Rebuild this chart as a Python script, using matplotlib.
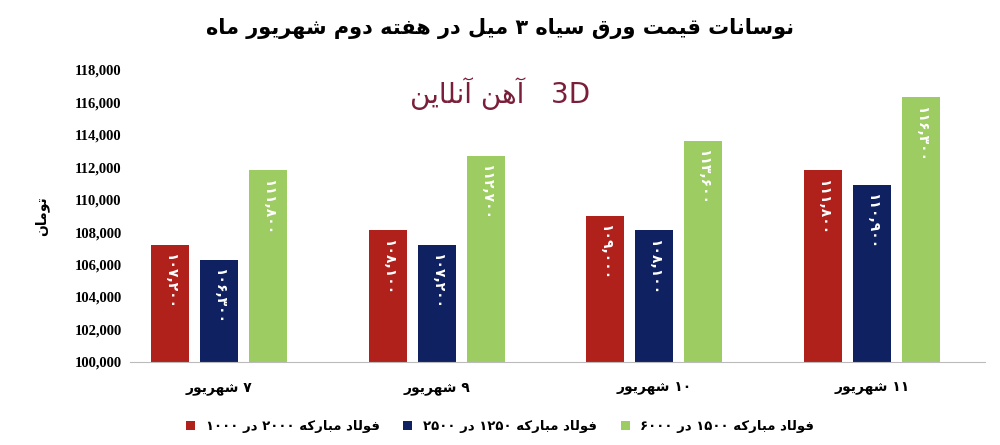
import matplotlib
matplotlib.use("Agg")
import matplotlib.pyplot as plt
import numpy as np

plt.rcParams['font.family'] = ['DejaVu Sans']

# ---- minimal Arabic/Persian shaping ----
FORMS = {
 '\u0622':('\uFE81','\uFE82',None,None),'\u0627':('\uFE8D','\uFE8E',None,None),
 '\u0628':('\uFE8F','\uFE90','\uFE91','\uFE92'),'\u067E':('\uFB56','\uFB57','\uFB58','\uFB59'),
 '\u062A':('\uFE95','\uFE96','\uFE97','\uFE98'),'\u062B':('\uFE99','\uFE9A','\uFE9B','\uFE9C'),
 '\u062C':('\uFE9D','\uFE9E','\uFE9F','\uFEA0'),'\u062D':('\uFEA1','\uFEA2','\uFEA3','\uFEA4'),
 '\u062E':('\uFEA5','\uFEA6','\uFEA7','\uFEA8'),'\u062F':('\uFEA9','\uFEAA',None,None),
 '\u0630':('\uFEAB','\uFEAC',None,None),'\u0631':('\uFEAD','\uFEAE',None,None),
 '\u0632':('\uFEAF','\uFEB0',None,None),'\u0633':('\uFEB1','\uFEB2','\uFEB3','\uFEB4'),
 '\u0634':('\uFEB5','\uFEB6','\uFEB7','\uFEB8'),'\u0635':('\uFEB9','\uFEBA','\uFEBB','\uFEBC'),
 '\u0637':('\uFEC1','\uFEC2','\uFEC3','\uFEC4'),'\u0639':('\uFEC9','\uFECA','\uFECB','\uFECC'),
 '\u0641':('\uFED1','\uFED2','\uFED3','\uFED4'),'\u0642':('\uFED5','\uFED6','\uFED7','\uFED8'),
 '\u06A9':('\uFB8E','\uFB8F','\uFB90','\uFB91'),'\u06AF':('\uFB92','\uFB93','\uFB94','\uFB95'),
 '\u0644':('\uFEDD','\uFEDE','\uFEDF','\uFEE0'),'\u0645':('\uFEE1','\uFEE2','\uFEE3','\uFEE4'),
 '\u0646':('\uFEE5','\uFEE6','\uFEE7','\uFEE8'),'\u0647':('\uFEE9','\uFEEA','\uFEEB','\uFEEC'),
 '\u0648':('\uFEED','\uFEEE',None,None),'\u06CC':('\uFBFC','\uFBFD','\uFBFE','\uFBFF'),
}
def joins_next(c): return c in FORMS and FORMS[c][2] is not None
def shape(s):
    out=[]
    for i,c in enumerate(s):
        if c not in FORMS: out.append(c); continue
        prev = s[i-1] if i>0 else ''
        nxt = s[i+1] if i+1<len(s) else ''
        jp = joins_next(prev)
        jn = joins_next(c) and nxt in FORMS
        iso,fin,ini,med = FORMS[c]
        if jp and jn: out.append(med)
        elif jp: out.append(fin)
        elif jn: out.append(ini)
        else: out.append(iso)
    return ''.join(out)
def rtl(s):
    s = shape(s)
    toks=[]; cur=''; isd=None
    for c in s:
        d = c.isdigit() or (c==',' and cur and isd)
        if isd is None or d==isd: cur+=c
        else: toks.append((cur,isd)); cur=c
        isd=d
    toks.append((cur,isd))
    return ''.join(t if d else t[::-1] for t,d in reversed(toks))
def fa(n):
    return ''.join('۰۱۲۳۴۵۶۷۸۹'[int(c)] if c.isdigit() else c for c in str(n))

# ---- data ----
categories = ['۷ شهریور','۹ شهریور','۱۰ شهریور','۱۱ شهریور']
series_names = ['فولاد مبارکه ۲۰۰۰ در ۱۰۰۰','فولاد مبارکه ۱۲۵۰ در ۲۵۰۰','فولاد مبارکه ۱۵۰۰ در ۶۰۰۰']
s1 = [107200,108100,109000,111800]
s2 = [106300,107200,108100,110900]
s3 = [111800,112700,113600,116300]
colors = ['#B0211C','#0F2160','#9DCC62']

fig = plt.figure(figsize=(10,4.45),dpi=100)
ax = fig.add_axes([0.13,0.187,0.855,0.656])
x = np.arange(len(categories))
w = 0.175; off = 0.225
for k,(vals,col) in enumerate(zip([s1,s2,s3],colors)):
    bars = ax.bar(x+(k-1)*off, np.array(vals)-100000, w, bottom=100000, color=col, label=rtl(series_names[k]))
    for b,v in zip(bars,vals):
        ax.text(b.get_x()+w/2, v-500, fa(f"{v:,}"), rotation=-90, ha='center', va='top',
                color='white', fontsize=10, fontweight='bold')
ax.set_ylim(100000,118000)
ax.set_yticks(range(100000,118001,2000))
ax.set_yticklabels([f"{t:,}" for t in range(100000,118001,2000)], fontsize=10.5, fontweight='bold', family='Liberation Serif')
ax.set_xlim(-0.41,3.52)
ax.set_xticks(x)
ax.set_xticklabels([rtl(c) for c in categories], fontsize=10, fontweight='bold')
for s in ['top','right','left']: ax.spines[s].set_visible(False)
ax.spines['bottom'].set_color('#BBBBBB')
ax.tick_params(length=0)
ax.tick_params(axis='x', pad=14)
ax.tick_params(axis='y', pad=6)
ax.set_ylabel(rtl('تومان'), fontsize=10, fontweight='bold', labelpad=18)
fig.text(0.5,0.935,rtl('نوسانات قیمت ورق سیاه ۳ میل در هفته دوم شهریور ماه'),ha='center',va='center',fontsize=15,fontweight='bold')
fig.text(0.5,0.79,rtl('آهن آنلاین')+'   3D',ha='center',va='center',fontsize=20,color='#7A1E3A')
fig.legend(loc='lower center', bbox_to_anchor=(0.5,0.0), ncol=3, frameon=False,
           handlelength=0.7, handleheight=0.7, columnspacing=1.8, prop={'weight':'bold','size':9.5})
fig.savefig('out.png',dpi=100)
